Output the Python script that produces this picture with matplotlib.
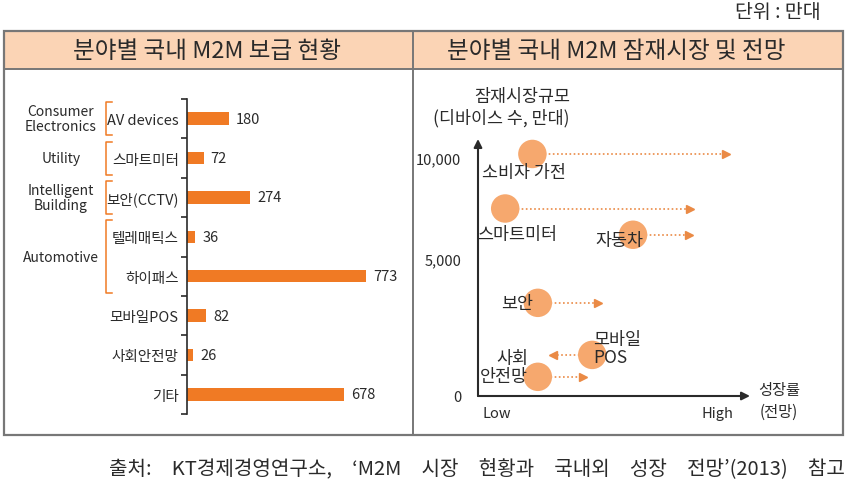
import numpy as np
import matplotlib
matplotlib.use("Agg")
import matplotlib.pyplot as plt
from matplotlib.patches import Rectangle
from matplotlib.transforms import blended_transform_factory

plt.rcParams['font.family'] = ['Noto Sans CJK KR', 'DejaVu Sans']

# ---------------- data ----------------
bar_categories = ['AV devices', '스마트미터', '보안(CCTV)', '텔레매틱스', '하이패스',
                  '모바일POS', '사회안전망', '기타']
bar_values = [180, 72, 274, 36, 773, 82, 26, 678]

groups = ['Consumer\nElectronics', 'Utility', 'Intelligent\nBuilding', 'Automotive']
group_spans = [(0, 0), (1, 1), (2, 2), (3, 4)]   # category index ranges

segments = ['소비자 가전', '스마트미터', '자동차', '보안', '모바일\nPOS', '사회\n안전망']
market_size = [10200, 7500, 6200, 3400, 1500, 700]       # 만대 (schematic)
growth_now = [20, 10, 57, 22, 42, 22]                      # 0-100 schematic growth scale
growth_outlook = [91, 78, 77.5, 44, 27.5, 38.5]
y_ticks = [0, 5000, 10000]
y_ticklabels = ['0', '5,000', '10,000']

# ---------------- style ----------------
W, H = 850, 489
BAR_C = '#F07A24'
BUB_C = '#F6A86E'
ARR_C = '#EA8A45'
TXT = '#2a2a2a'
FRAME = '#777777'
HEAD_FILL = '#FBD4B5'

fig = plt.figure(figsize=(W / 100, H / 100), dpi=100)

def px_axes(left, top, right, bottom, **kw):
    return fig.add_axes([left / W, 1 - bottom / H, (right - left) / W, (bottom - top) / H], **kw)

# overlay for frames & free text (pixel coordinates)
ov = fig.add_axes([0, 0, 1, 1], zorder=0)
ov.set_xlim(0, W)
ov.set_ylim(H, 0)
ov.axis('off')

ov.add_patch(Rectangle((4, 32), 839, 38, facecolor=HEAD_FILL, edgecolor='none'))
ov.add_patch(Rectangle((4, 32), 839, 404, facecolor='none', edgecolor=FRAME, lw=1.6))
ov.plot([4, 843], [70, 70], color=FRAME, lw=1.4)
ov.plot([413, 413], [32, 436], color=FRAME, lw=1.4)

ov.text(207, 51, '분야별 국내 M2M 보급 현황', ha='center', va='center', fontsize=17, color=TXT)
ov.text(616, 51, '분야별 국내 M2M 잠재시장 및 전망', ha='center', va='center', fontsize=17, color=TXT)
ov.text(821, 12, '단위 : 만대', ha='right', va='center', fontsize=14, color=TXT)
ov.text(845, 470,
        '출처:\u3000KT경제경영연구소,\u3000‘M2M\u3000시장\u3000현황과\u3000국내외\u3000성장\u3000전망’(2013)\u3000참고',
        ha='right', va='center', fontsize=14.5, color=TXT)

# ---------------- left: bar chart ----------------
axb = px_axes(187, 100, 407, 415)
axb.patch.set_alpha(0)
ypos = np.arange(len(bar_categories))
bars = axb.barh(ypos, bar_values, height=0.32, color=BAR_C, left=0)
axb.bar_label(bars, labels=[str(v) for v in bar_values], padding=5, fontsize=10.5, color=TXT)
axb.set_xlim(0, 951)
axb.set_ylim(len(bar_categories) - 0.5, -0.5)
for s in ['top', 'right', 'bottom']:
    axb.spines[s].set_visible(False)
axb.spines['left'].set_color(TXT)
axb.spines['left'].set_linewidth(1.2)
axb.set_xticks([])
axb.set_yticks(ypos)
axb.set_yticklabels(bar_categories, fontsize=10.5, color=TXT)
axb.tick_params(axis='y', which='major', length=0, pad=6)
axb.set_yticks(np.arange(-0.5, len(bar_categories)), minor=True)
axb.tick_params(axis='y', which='minor', length=4, width=1.2, color=TXT, direction='out')

# group labels and brackets
tr = blended_transform_factory(ov.transData, axb.transData)
for g, (a, b) in zip(groups, group_spans):
    y0, y1 = a - 0.42, b + 0.42
    axb.plot([112, 106, 106, 112], [y0, y0, y1, y1], color=BAR_C, lw=1.1,
             transform=tr, clip_on=False)
    axb.text(61, (a + b) / 2, g, transform=tr, ha='center', va='center',
             fontsize=10, color=TXT, linespacing=1.1)

# ---------------- right: bubble chart ----------------
def fwd(v):
    v = np.asarray(v, float)
    return np.where(v <= 5000, v * 137 / 5000,
                    np.where(v <= 10000, 137 + (v - 5000) * 101 / 5000,
                             238 + (v - 10000) * 101 / 5000))

def inv(p):
    p = np.asarray(p, float)
    return np.where(p <= 137, p * 5000 / 137,
                    np.where(p <= 238, 5000 + (p - 137) * 5000 / 101,
                             10000 + (p - 238) * 5000 / 101))

axs = px_axes(478, 140, 750, 397)
axs.patch.set_alpha(0)
axs.set_yscale('function', functions=(fwd, inv))
axs.set_xlim(0, 100)
axs.set_ylim(0, float(inv(257)))
for s in axs.spines.values():
    s.set_visible(False)

# axes arrows
axs.annotate('', xy=(1.0, 0), xytext=(0, 0), xycoords='axes fraction',
             arrowprops=dict(arrowstyle='-|>', color=TXT, lw=1.5, mutation_scale=12,
                             shrinkA=0, shrinkB=0), annotation_clip=False)
axs.annotate('', xy=(0, 1.0), xytext=(0, 0), xycoords='axes fraction',
             arrowprops=dict(arrowstyle='-|>', color=TXT, lw=1.5, mutation_scale=12,
                             shrinkA=0, shrinkB=0), annotation_clip=False)

axs.set_yticks(y_ticks)
axs.set_yticklabels(y_ticklabels, fontsize=10.5, color=TXT)
axs.yaxis.set_minor_locator(matplotlib.ticker.NullLocator())
axs.tick_params(axis='y', length=0, pad=12)
axs.set_xticks([7, 88])
axs.set_xticklabels(['Low', 'High'], fontsize=10.5, color=TXT)
axs.tick_params(axis='x', length=0, pad=7)

for x0, x1, y in zip(growth_now, growth_outlook, market_size):
    axs.plot([x0, x1], [y, y], linestyle=(0, (1, 1.5)), color=ARR_C, lw=1.2, zorder=1,
             clip_on=False)
    axs.plot([x1], [y], marker='>' if x1 > x0 else '<', color=ARR_C, markersize=6,
             linestyle='none', zorder=1, clip_on=False)
axs.scatter(growth_now, market_size, s=420, color=BUB_C, edgecolor='none', zorder=2,
            clip_on=False)

# bubble label placement
label_pos = [
    (1.5, 9300, 'left'),     # 소비자 가전
    (-0.5, 6250, 'left'),    # 스마트미터
    (52, 5950, 'center'),    # 자동차
    (14.5, 3400, 'center'),  # 보안
    (42.5, 1750, 'left'),    # 모바일 POS
    (18.5, 1050, 'right'),   # 사회 안전망
]
for name, (lx, ly, ha) in zip(segments, label_pos):
    axs.text(lx, ly, name, ha=ha, va='center', fontsize=12.5, color=TXT, zorder=3,
             linespacing=1.0)

ov.text(570, 97, '잠재시장규모', ha='right', va='center', fontsize=12.5, color=TXT)
ov.text(570, 118, '(디바이스 수, 만대)', ha='right', va='center', fontsize=12.5, color=TXT)
ov.text(779, 391, '성장률', ha='center', va='center', fontsize=11, color=TXT)
ov.text(779, 412, '(전망)', ha='center', va='center', fontsize=11, color=TXT)

fig.savefig('out.png', dpi=100)
